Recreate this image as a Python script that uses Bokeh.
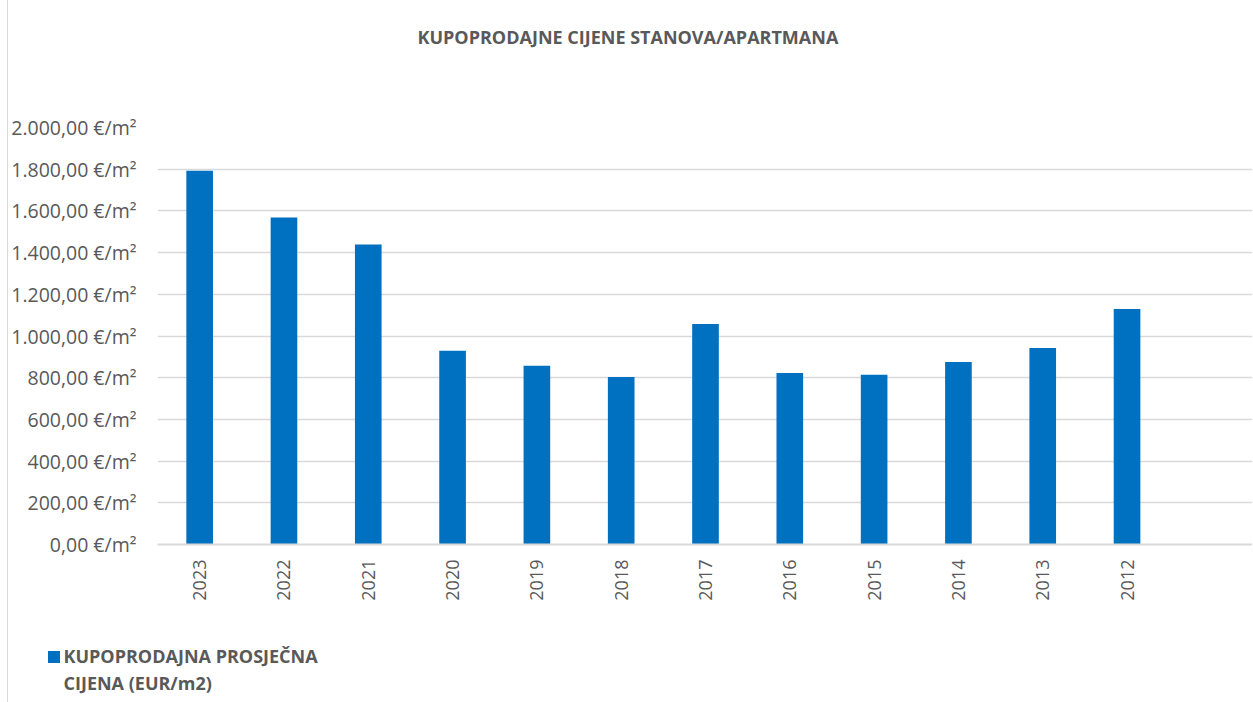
from bokeh.plotting import figure
from bokeh.models import Range1d, FixedTicker, Legend, LegendItem, ColumnDataSource, Title
from bokeh.embed import file_html
from bokeh.resources import INLINE
import math

years = ["2023", "2022", "2021", "2020", "2019", "2018", "2017", "2016", "2015", "2014", "2013", "2012"]
prices = [1792, 1568, 1439, 929, 857, 803, 1057, 822, 814, 875, 943, 1130]
y_ticks = [0, 200, 400, 600, 800, 1000, 1200, 1400, 1600, 1800, 2000]
y_tick_labels = ["0,00 €/m²", "200,00 €/m²", "400,00 €/m²", "600,00 €/m²", "800,00 €/m²",
                 "1.000,00 €/m²", "1.200,00 €/m²", "1.400,00 €/m²", "1.600,00 €/m²",
                 "1.800,00 €/m²", "2.000,00 €/m²"]
title_text = "KUPOPRODAJNE CIJENE STANOVA/APARTMANA"
series_name_lines = ["KUPOPRODAJNA PROSJEČNA", "CIJENA (EUR/m2)"]

FONT = "Open Sans"
TXT = "#595959"
GRID = "#d9d9d9"
BLUE = "#0070C0"
BORDER = {"margin-left": "7px", "border-left": "1px solid #d9d9d9"}

xs = list(range(len(years)))
src = ColumnDataSource(dict(x=xs, top=prices, year=years))

p = figure(width=1245, height=620, output_backend="svg", toolbar_location=None, title=None,
           x_range=Range1d(-0.5, 12.5), y_range=Range1d(0, 2000),
           min_border_left=147, min_border_right=0, min_border_top=127, min_border_bottom=76)
p.outline_line_color = None
p.background_fill_color = "white"
p.border_fill_color = "white"

r = p.vbar(x="x", top="top", width=0.316, bottom=0, source=src, fill_color=BLUE, line_color=None)

# title (spacer nearest to the frame, then the real title)
spacer = Title(text=" ", text_font_size="1px", standoff=76)
p.add_layout(spacer, "above")
main_title = Title(text=title_text, align="left", offset=260, standoff=0,
                   text_font=FONT, text_font_size="18px", text_font_style="bold",
                   text_color=TXT)
p.add_layout(main_title, "above")

# x axis
xa = p.xaxis[0]
xa.ticker = FixedTicker(ticks=xs)
xa.major_label_overrides = {i: y for i, y in zip(xs, years)}
xa.major_label_orientation = math.pi / 2
xa.major_label_text_font = FONT
xa.major_label_text_font_size = "18px"
xa.major_label_text_color = TXT
xa.major_tick_line_color = None
xa.minor_tick_line_color = None
xa.axis_line_color = GRID
xa.axis_line_width = 2
xa.major_label_standoff = 9

# y axis
ya = p.yaxis[0]
ya.ticker = FixedTicker(ticks=y_ticks)
ya.major_label_overrides = {t: l for t, l in zip(y_ticks, y_tick_labels)}
ya.major_label_text_font = FONT
ya.major_label_text_font_size = "19.5px"
ya.major_label_text_color = TXT
ya.major_tick_line_color = None
ya.minor_tick_line_color = None
ya.axis_line_color = None
ya.major_label_standoff = 15

p.xgrid.visible = False
p.ygrid.ticker = FixedTicker(ticks=y_ticks)
p.ygrid.grid_line_color = GRID
p.ygrid.grid_line_width = 1.5
p.styles = BORDER

# legend strip (separate root, so its frame is not aligned to the chart's frame)
p2 = figure(width=1245, height=82, output_backend="svg", toolbar_location=None,
            x_range=Range1d(-1000, -999), y_range=Range1d(-1000, -999),
            x_axis_type=None, y_axis_type=None,
            min_border_left=0, min_border_right=0, min_border_top=0, min_border_bottom=0)
p2.outline_line_color = None
p2.xgrid.visible = False
p2.ygrid.visible = False
p2.border_fill_color = "white"
p2.background_fill_color = "white"
r2 = p2.vbar(x="x", top="top", width=0.316, bottom=0, source=src, fill_color=BLUE, line_color=None)
r3 = p2.vbar(x="x", top="top", width=0.316, bottom=0, source=src, fill_alpha=0, line_alpha=0)
legend = Legend(items=[LegendItem(label=series_name_lines[0], renderers=[r2]),
                       LegendItem(label=series_name_lines[1], renderers=[r3])],
                location=(37.5, 7), orientation="vertical",
                glyph_width=15, glyph_height=15, label_standoff=3, spacing=3,
                label_text_font=FONT, label_text_font_size="18px",
                label_text_font_style="bold", label_text_color=TXT,
                border_line_color=None, background_fill_alpha=0, padding=10)
p2.add_layout(legend, "center")
p2.styles = BORDER

open("out.html", "w").write(file_html([p, p2], INLINE))
